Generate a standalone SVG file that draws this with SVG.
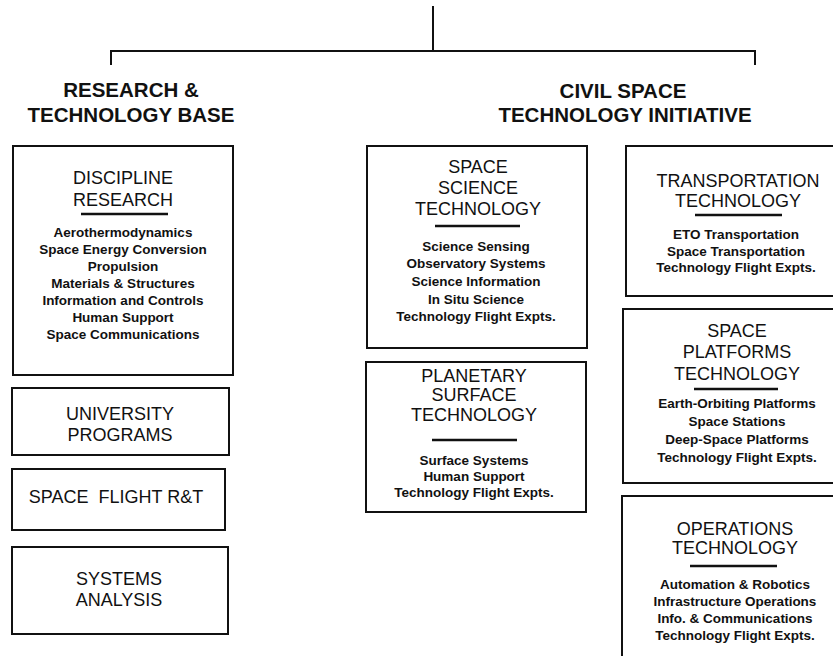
<svg xmlns="http://www.w3.org/2000/svg" width="833" height="656" viewBox="0 0 833 656">
<style>
.box{fill:none;stroke:#111;stroke-width:2}
.ln{fill:none;stroke:#111;stroke-width:2}
.ul{stroke:#111;stroke-width:2.5}
text{font-family:"Liberation Sans",Arial,Helvetica,sans-serif;fill:#111;text-anchor:middle}
.hb{font-size:20.5px;font-weight:bold}
.h{font-size:18px}
.it{font-size:13.5px;font-weight:bold}
</style>
<rect width="833" height="656" fill="#fff"/>
<g id="connectors">
<path class="ln" d="M433 6 V51 M111 65 V51 H755 V65"/>
</g>
<g id="hdr-rtb">
<text class="hb" x="131" y="97">RESEARCH &amp;</text>
<text class="hb" x="131" y="122">TECHNOLOGY BASE</text>
</g>
<g id="hdr-csti">
<text class="hb" x="623" y="98">CIVIL SPACE</text>
<text class="hb" x="625" y="122">TECHNOLOGY INITIATIVE</text>
</g>
<g id="discipline">
<rect class="box" x="13" y="146" width="220" height="229"/>
<text class="h" x="123" y="184">DISCIPLINE</text>
<text class="h" x="123" y="206">RESEARCH</text>
<line class="ul" x1="81" y1="214" x2="168" y2="214"/>
<text class="it" x="123" y="237">Aerothermodynamics</text>
<text class="it" x="123" y="254">Space Energy Conversion</text>
<text class="it" x="123" y="271">Propulsion</text>
<text class="it" x="123" y="288">Materials &amp; Structures</text>
<text class="it" x="123" y="305">Information and Controls</text>
<text class="it" x="123" y="322">Human Support</text>
<text class="it" x="123" y="339">Space Communications</text>
</g>
<g id="university">
<rect class="box" x="12" y="388" width="217" height="67"/>
<text class="h" x="120" y="420">UNIVERSITY</text>
<text class="h" x="120" y="441">PROGRAMS</text>
</g>
<g id="spaceflight">
<rect class="box" x="12" y="469" width="213" height="61"/>
<text class="h" x="116" y="503" style="white-space:pre">SPACE  FLIGHT R&amp;T</text>
</g>
<g id="systems">
<rect class="box" x="12" y="547" width="216" height="87"/>
<text class="h" x="119" y="585">SYSTEMS</text>
<text class="h" x="119" y="606">ANALYSIS</text>
</g>
<g id="spacescience">
<rect class="box" x="367" y="146" width="220" height="202"/>
<text class="h" x="478" y="173">SPACE</text>
<text class="h" x="478" y="194">SCIENCE</text>
<text class="h" x="478" y="215">TECHNOLOGY</text>
<line class="ul" x1="435" y1="226" x2="520" y2="226"/>
<text class="it" x="476" y="251">Science Sensing</text>
<text class="it" x="476" y="268">Observatory Systems</text>
<text class="it" x="476" y="286">Science Information</text>
<text class="it" x="476" y="304">In Situ Science</text>
<text class="it" x="476" y="321">Technology Flight Expts.</text>
</g>
<g id="planetary">
<rect class="box" x="366" y="362" width="220" height="150"/>
<text class="h" x="474" y="382">PLANETARY</text>
<text class="h" x="474" y="401">SURFACE</text>
<text class="h" x="474" y="421">TECHNOLOGY</text>
<line class="ul" x1="432" y1="440" x2="517" y2="440"/>
<text class="it" x="474" y="465">Surface Systems</text>
<text class="it" x="474" y="481">Human Support</text>
<text class="it" x="474" y="497">Technology Flight Expts.</text>
</g>
<g id="transportation">
<rect class="box" x="626" y="146" width="230" height="150"/>
<text class="h" x="738" y="187">TRANSPORTATION</text>
<text class="h" x="738" y="207">TECHNOLOGY</text>
<line class="ul" x1="695" y1="215" x2="782" y2="215"/>
<text class="it" x="736" y="239">ETO Transportation</text>
<text class="it" x="736" y="256">Space Transportation</text>
<text class="it" x="736" y="272">Technology Flight Expts.</text>
</g>
<g id="platforms">
<rect class="box" x="623" y="309" width="233" height="174"/>
<text class="h" x="737" y="337">SPACE</text>
<text class="h" x="737" y="358">PLATFORMS</text>
<text class="h" x="737" y="380">TECHNOLOGY</text>
<line class="ul" x1="694" y1="389" x2="778" y2="389"/>
<text class="it" x="737" y="408">Earth-Orbiting Platforms</text>
<text class="it" x="737" y="426">Space Stations</text>
<text class="it" x="737" y="444">Deep-Space Platforms</text>
<text class="it" x="737" y="462">Technology Flight Expts.</text>
</g>
<g id="operations">
<rect class="box" x="622" y="496" width="234" height="170"/>
<text class="h" x="735" y="535">OPERATIONS</text>
<text class="h" x="735" y="554">TECHNOLOGY</text>
<line class="ul" x1="690" y1="566" x2="777" y2="566"/>
<text class="it" x="735" y="589">Automation &amp; Robotics</text>
<text class="it" x="735" y="606">Infrastructure Operations</text>
<text class="it" x="735" y="623">Info. &amp; Communications</text>
<text class="it" x="735" y="640">Technology Flight Expts.</text>
</g>
</svg>
